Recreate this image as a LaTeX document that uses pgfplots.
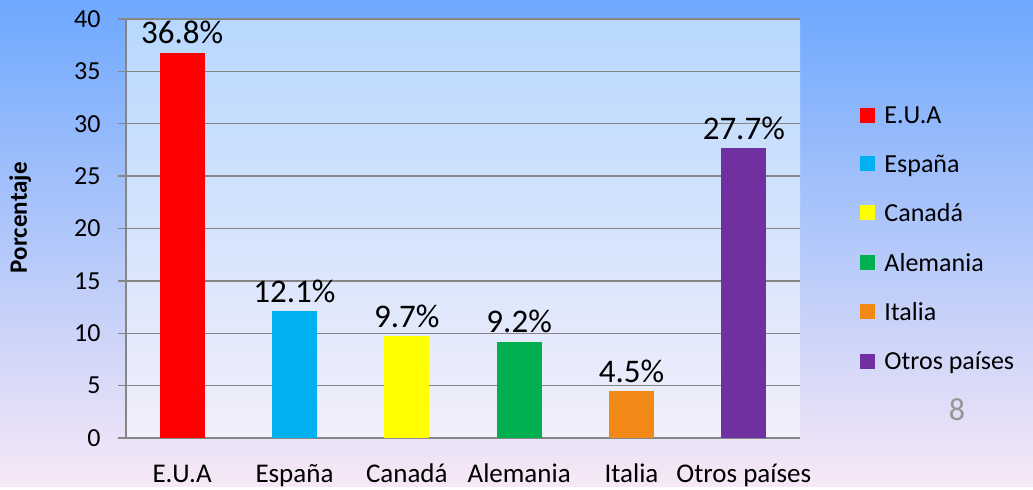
\documentclass[border=0pt]{standalone}
\usepackage{pgfplots}
\pgfplotsset{compat=1.18}
\usepackage{fontspec}
\setmainfont{Carlito}
\definecolor{bgtop}{RGB}{110,168,254}
\definecolor{bgbot}{RGB}{247,232,246}
\definecolor{pltop}{RGB}{184,216,254}
\definecolor{plbot}{RGB}{242,239,250}
\definecolor{cEUA}{RGB}{255,0,0}
\definecolor{cEsp}{RGB}{0,176,240}
\definecolor{cCan}{RGB}{255,255,0}
\definecolor{cAle}{RGB}{0,176,80}
\definecolor{cIta}{RGB}{242,137,23}
\definecolor{cOtr}{RGB}{112,48,160}
\definecolor{gridc}{RGB}{134,134,134}
\begin{document}
\begin{tikzpicture}
\shade[top color=bgtop, bottom color=bgbot] (0pt,0pt) rectangle (1033pt,486pt);
\begin{axis}[
  at={(126pt,48pt)}, anchor=south west,
  scale only axis, width=674pt, height=419pt,
  ymin=0, ymax=40, ytick={0,5,...,40},
  xmin=-0.5, xmax=5.5, xtick={0,...,5},
  xticklabels={E.U.A, España, Canadá, Alemania, Italia, Otros países},
  ybar, bar width=45pt, bar shift=0pt,
  ymajorgrids, grid style={gridc, line width=1.3pt},
  axis x line*=bottom, axis y line*=left,
  axis line style={gridc, line width=1.8pt},
  axis background/.style={shade, top color=pltop, bottom color=plbot},
  tick align=outside,
  major tick length=8pt,
  ytick style={gridc, line width=1.3pt},
  xtick style={draw=none},
  /pgf/number format/assume math mode=true,
  yticklabel style={font=\fontsize{26}{26}\selectfont, text=black, xshift=-14pt},
  xticklabel style={font=\fontsize{27}{27}\selectfont, text=black, anchor=base, yshift=-36pt},
  ylabel={\textbf{Porcentaje}},
  ylabel style={font=\fontsize{25}{25}\selectfont},
  every axis y label/.append style={at={(axis description cs:-0.157,0.526)}, anchor=center},
  nodes near coords={\pgfmathprintnumber[fixed,fixed zerofill,precision=1]{\pgfplotspointmeta}\%},
  every node near coord/.append style={font=\fontsize{33}{33}\selectfont, text=black, yshift=5pt},
  legend style={at={(1.085,0.475)}, anchor=west, draw=none, fill=none,
    font=\fontsize{26}{26}\selectfont, row sep=26pt,
    nodes={inner xsep=9pt}},
  legend cell align=left,
  legend image code/.code={\fill[#1,draw=none] (0pt,-7pt) rectangle (15pt,8pt);},
]
\addplot[fill=cEUA, draw=none] coordinates {(0,36.8)};
\addplot[fill=cEsp, draw=none] coordinates {(1,12.1)};
\addplot[fill=cCan, draw=none] coordinates {(2,9.7)};
\addplot[fill=cAle, draw=none] coordinates {(3,9.2)};
\addplot[fill=cIta, draw=none] coordinates {(4,4.5)};
\addplot[fill=cOtr, draw=none] coordinates {(5,27.7)};
\legend{E.U.A, España, Canadá, Alemania, Italia, Otros países}
\end{axis}
\node[text={rgb,255:red,150;green,150;blue,150}, font=\fontsize{32}{32}\selectfont] at (957pt,76pt) {8};
\end{tikzpicture}
\end{document}
